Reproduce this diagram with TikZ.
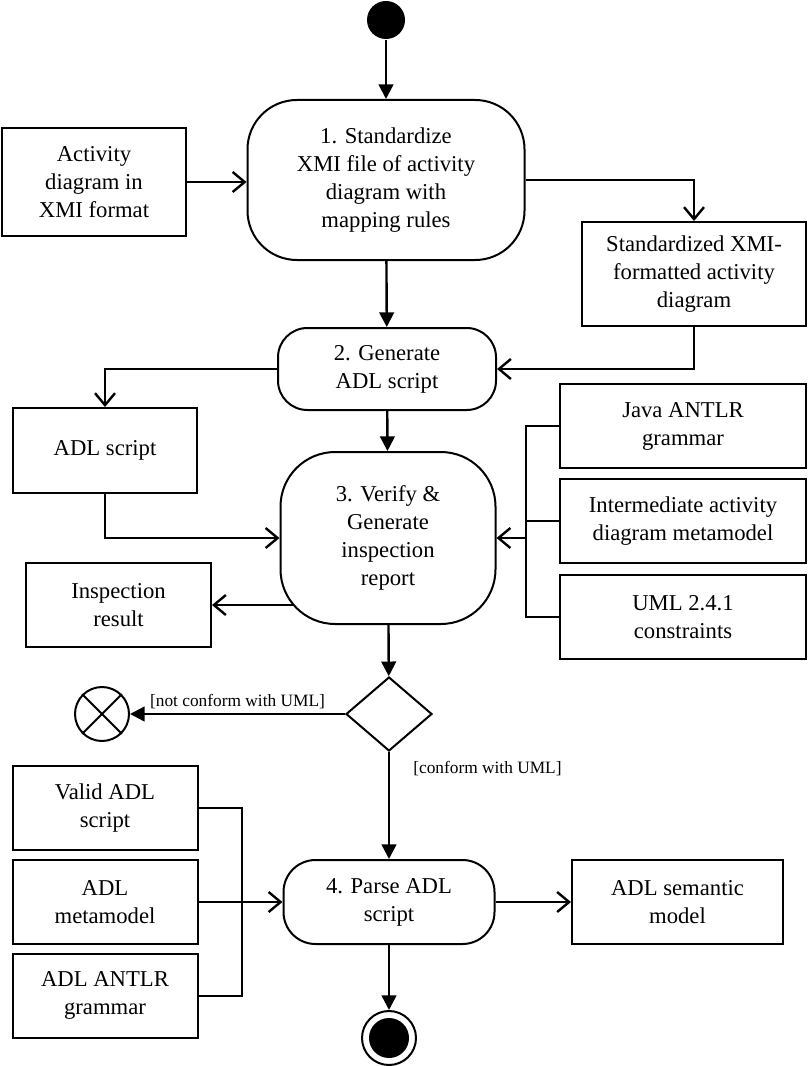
\documentclass[tikz,border=0pt]{standalone}
\usepackage{fontspec}
\setmainfont{Liberation Serif}
\usetikzlibrary{arrows.meta,shapes.geometric}

\begin{document}
\begin{tikzpicture}[
  x=0.75pt, y=-0.75pt,
  line width=1.5pt,
  box/.style={draw, rectangle, align=center, inner sep=2pt, font=\fontsize{17}{21}\selectfont},
  act/.style={box, rounded corners=#1},
  ctrl/.style={-{Triangle[length=11pt,width=11pt]}, line width=1.8pt},
  flow/.style={-{Straight Barb[length=9pt,width=15pt]}, line width=1.8pt},
  guard/.style={font=\fontsize{13}{15}\selectfont}
]
  \useasboundingbox (0,0) rectangle (808,1066);

  % main flow
  \node[circle, fill, minimum size=28.5pt, inner sep=0] (start) at (386,20) {};
  \node[act=37pt, minimum width=207.75pt, minimum height=120pt] (stdz) at (386,180)
    {1. Standardize\\XMI file of activity\\diagram with\\mapping rules};
  \node[act=22pt, minimum width=163.5pt, minimum height=61.5pt] (gen) at (387,369)
    {2. Generate\\ADL script};
  \node[act=41pt, minimum width=161.25pt, minimum height=129pt] (verify) at (388,538)
    {3. Verify \&\\Generate\\inspection\\report};
  \node[diamond, draw, minimum width=64.5pt, minimum height=55.5pt, inner sep=0] (dec) at (389,714) {};
  \node[act=24pt, minimum width=158.25pt, minimum height=63pt] (parse) at (389,902)
    {4. Parse ADL\\script};
  \node[circle, draw, minimum size=40.5pt, inner sep=0] (endo) at (389,1038) {};
  \node[circle, fill, minimum size=30pt, inner sep=0] (endi) at (389,1038) {};

  \node[circle, draw, minimum size=40.5pt, inner sep=0] (stop) at (102,714) {};
  \draw (stop.45) -- (stop.225) (stop.135) -- (stop.315);

  % objects
  \node[box, minimum width=138pt, minimum height=81pt] (adxmi) at (94,182)
    {Activity\\diagram in\\XMI format};
  \node[box, minimum width=168pt, minimum height=78pt] (stdxmi) at (694,274)
    {Standardized XMI-\\formatted activity\\diagram};
  \node[box, minimum width=138pt, minimum height=63.75pt] (adl) at (105,450.5) {ADL script};
  \node[box, minimum width=138.75pt, minimum height=63pt] (insp) at (118.5,605) {Inspection\\result};
  \foreach \n/\y/\txt in {java/426/{Java ANTLR\\grammar},
      inter/521/{Intermediate activity\\diagram metamodel},
      uml/617/{UML 2.4.1\\constraints}}
    \node[box, minimum width=184.5pt, minimum height=63pt] (\n) at (683,\y) {\txt};
  \foreach \n/\y/\txt in {valid/808/{Valid ADL\\script},
      adlmm/902/{ADL\\metamodel},
      grammar/995.5/{ADL ANTLR\\grammar}}
    \node[box, minimum width=138.75pt, minimum height=63pt] (\n) at (105,\y) {\txt};
  \node[box, minimum width=158.25pt, minimum height=63pt] (sem) at (677.5,902) {ADL semantic\\model};

  % control flows
  \draw[ctrl] (start) -- (stdz);
  \draw[ctrl] (stdz) -- (gen);
  \draw[ctrl] (gen) -- (verify);
  \draw[ctrl] (verify) -- (dec);
  \draw[ctrl] (dec.west) -- node[above, guard] {[not conform with UML]} (stop.east);
  \draw[ctrl] (dec.south) -- node[guard, anchor=west, pos=0.15, xshift=14pt] {[conform with UML]} (parse.north);
  \draw[ctrl] (parse) -- (endo);

  % object flows
  \draw[flow] (adxmi.east) -- (stdz.west |- adxmi.east);
  \draw[flow] (stdz.east) -| (stdxmi.north);
  \draw[flow] (stdxmi.south) |- (gen.east);
  \draw[flow] (gen.west) -| (adl.north);
  \draw[flow] (adl.south) |- (verify.west);
  \draw (java.west) -- ++(-33,0) coordinate (rb) |- (uml.west);
  \draw (inter.west) -- (inter.west -| rb);
  \draw[flow] (rb |- verify.east) -- (verify.east);
  \path (verify.west |- insp.east) ++(13,0) coordinate (vout);
  \draw[flow] (vout) -- (insp.east);
  \draw (valid.east) -- ++(43,0) coordinate (lb) |- (grammar.east);
  \draw[flow] (adlmm.east) -- (parse.west);
  \draw[flow] (parse.east) -- (sem.west);
\end{tikzpicture}
\end{document}
